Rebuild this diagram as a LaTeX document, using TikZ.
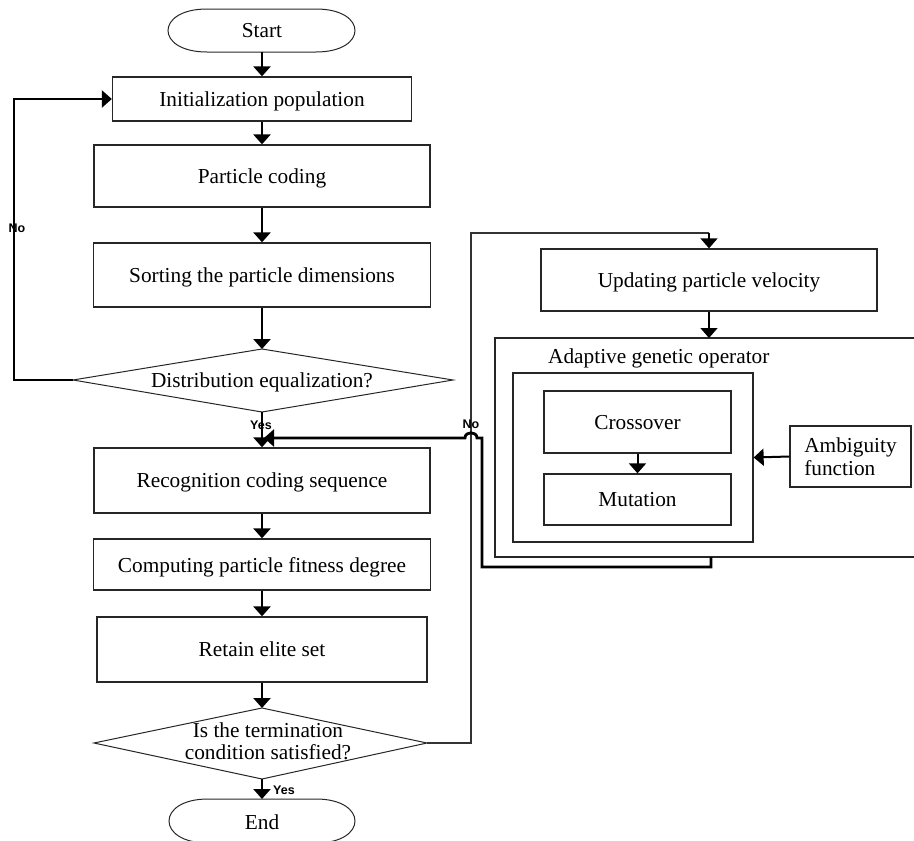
\documentclass[tikz,border=0pt]{standalone}
\usepackage{fontspec}
\setmainfont{Liberation Serif}
\newfontfamily\labelfont{Liberation Sans}
\usetikzlibrary{arrows.meta}
\begin{document}
\begin{tikzpicture}[x=1pt,y=-1pt,
  every node/.style={font=\fontsize{21.3}{22.5}\selectfont, inner sep=0pt, text depth=0pt},
  box/.style={draw=black!85, line width=1.3pt, rectangle},
  outline/.style={draw=black!85, line width=1pt},
  lbl/.style={font=\labelfont\bfseries\fontsize{12.5}{14}\selectfont},
  arr/.style={line width=2.6pt, -{Triangle[width=17pt,length=10pt]}},
  loopline/.style={line width=2.8pt},
  thinline/.style={line width=1.1pt, draw=black!80},
]
\useasboundingbox (0,0) rectangle (914,841);

% Start / End terminators
\node (start) at (262,30.5) {Start};
\draw[outline] (207,9) -- (316,9) .. controls (368,9) and (368,52) .. (316,52)
  -- (207,52) .. controls (155,52) and (155,9) .. (207,9) -- cycle;
\coordinate (startS) at (262,52);

\node (en) at (262,822) {End};
\draw[outline] (208,799) -- (316,799) .. controls (368,799) and (368,843) .. (316,843)
  -- (208,843) .. controls (156,843) and (156,799) .. (208,799) -- cycle;
\coordinate (enN) at (262,799);

% left column
\node[box, minimum width=299pt, minimum height=44pt] (init) at (262,99) {Initialization population};
\node[box, minimum width=336pt, minimum height=62pt] (pcode) at (262,176) {Particle coding};
\node[box, minimum width=337pt, minimum height=64pt] (sort) at (262,275) {Sorting the particle dimensions};

\node (d1) at (262,380) {Distribution equalization?};
\coordinate (d1w) at (73,380);
\coordinate (d1e) at (453,380);
\coordinate (d1n) at (262,349);
\coordinate (d1s) at (262,412);
\draw[outline] (d1w) -- (d1n) -- (d1e) -- (d1s) -- cycle;

\node[box, minimum width=336pt, minimum height=65pt] (recog) at (262,480.5) {Recognition coding sequence};
\node[box, minimum width=337pt, minimum height=51pt] (comp) at (262,564.5) {Computing particle fitness degree};
\node[box, minimum width=330pt, minimum height=65pt] (retain) at (262,649.5) {Retain elite set};

\node[align=center] (d2) at (268,741) {Is the termination\\condition satisfied?};
\coordinate (d2w) at (94,743);
\coordinate (d2e) at (427,743);
\coordinate (d2n) at (262,708);
\coordinate (d2s) at (262,779);
\draw[outline] (d2w) -- (d2n) -- (d2e) -- (d2s) -- cycle;

% right part
\node[box, minimum width=336pt, minimum height=62pt] (upd) at (709,280) {Updating particle velocity};
\coordinate (agoN) at (709,338);
\coordinate (agoS) at (711,557);
\draw[box] (914,338) -- (495,338) -- (495,557) -- (914,557);
\node[anchor=west] (agolbl) at (548,356) {Adaptive genetic operator};
\node[box, minimum width=240pt, minimum height=169pt] (inner) at (633,457.5) {};
\node[box, minimum width=187pt, minimum height=62pt] (cross) at (637.5,422) {Crossover};
\node[box, minimum width=187pt, minimum height=51pt] (mut) at (637.5,499.5) {Mutation};
\node[box, minimum width=121pt, minimum height=61pt, align=left] (amb) at (850.5,456.5) {Ambiguity\\function};

% main arrows
\draw[arr] (startS) -- (init.north);
\draw[arr] (init.south) -- (pcode.north);
\draw[arr] (pcode.south) -- (sort.north);
\draw[arr] (sort.south) -- (d1n);
\draw[arr] (d1s) -- (recog.north);
\draw[arr] (recog.south) -- (comp.north);
\draw[arr] (comp.south) -- (retain.north);
\draw[arr] (retain.south) -- (d2n);
\draw[arr] (d2s) -- (enN);

% left No loop
\draw[loopline, -{Triangle[width=17pt,length=10pt]}] (d1w) -- (14,380) |- (init.west);

% right No loop
\draw[thinline] (d2e) -- (471,743) -- (471,233) -- (709,233);
\draw[line width=1.6pt, -{Triangle[width=17pt,length=10pt]}] (709,232.5) -- (upd.north);
\draw[line width=1.6pt, -{Triangle[width=17pt,length=10pt]}] (upd.south) -- (agoN);
\draw[line width=2pt, -{Triangle[width=17pt,length=10pt]}] (cross.south) -- (mut.north);
\draw[line width=2pt, -{Triangle[width=17pt,length=10pt]}] (amb.west) -- (inner.east);

% return to recognition
\coordinate (yj) at (264,438);
\draw[loopline, -{Triangle[width=17pt,length=10pt]}] (agoS) -- (711,567) -- (482,567) -- (482,438) -- (477,438)
  .. controls (477,431) and (465,431) .. (465,438) -- (yj);

% labels
\node[lbl] (no1) at (17,228) {No};
\node[lbl] (yes1) at (261,425) {Yes};
\node[lbl] (no2) at (471,424) {No};
\node[lbl] (yes2) at (284,790) {Yes};
\end{tikzpicture}
\end{document}
